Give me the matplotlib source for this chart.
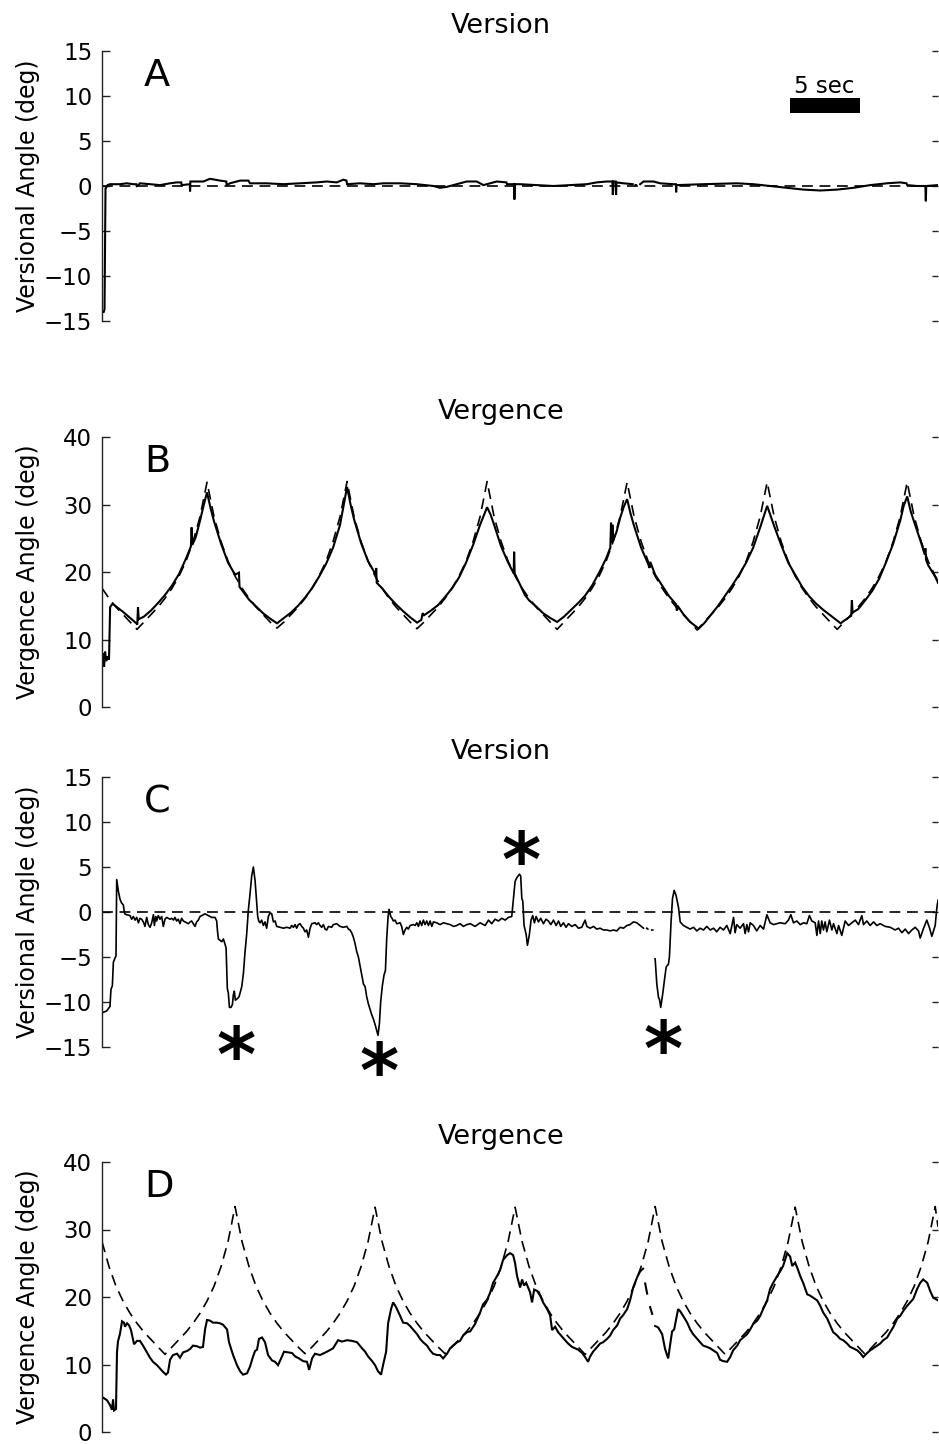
"""Eye-movement traces: version and vergence responses against target (panels A-D)."""

import numpy as np
import matplotlib

matplotlib.use("Agg")
import matplotlib.pyplot as plt
from matplotlib.patches import Rectangle

T_END = 59.7  # seconds shown on the time axis

# ---------------------------------------------------------------- panel A
A_EYE = [
    (0.00, -14.0), (0.12, -14.0), (0.18, -13.7), (0.25, -0.3), (0.40, 0.1),
    (0.57, 0.2), (1.29, 0.2), (1.76, 0.3), (2.24, 0.2), (2.45, 0.2),
    (2.48, 0.0), (2.60, 0.1), (2.71, 0.3), (3.43, 0.2), (4.14, 0.1),
    (4.86, 0.3), (5.33, 0.4), (5.66, 0.4), (5.69, 0.1), (6.27, 0.2),
    (6.29, -0.6), (6.31, 0.5), (7.24, 0.5), (7.71, 0.8), (8.43, 0.6),
    (8.88, 0.5), (8.90, 0.1), (9.14, 0.3), (9.86, 0.6), (10.45, 0.6),
    (10.57, 0.3), (11.76, 0.3), (12.95, 0.2), (14.14, 0.3), (15.33, 0.4),
    (16.05, 0.5), (16.76, 0.4), (17.24, 0.7), (17.46, 0.6), (17.50, 0.2),
    (18.43, 0.3), (19.38, 0.2), (20.10, 0.3), (21.29, 0.3), (22.48, 0.2),
    (23.67, 0.0), (24.14, -0.2), (24.62, -0.1), (25.33, 0.2), (26.05, 0.5),
    (26.76, 0.5), (27.24, 0.1), (28.19, 0.5), (28.88, 0.4), (28.92, 0.2),
    (29.43, 0.2), (29.45, -1.5), (29.48, 0.2), (29.86, 0.2), (31.05, 0.1),
    (32.24, 0.0), (33.43, 0.1), (34.62, 0.2), (35.33, 0.4), (36.05, 0.5),
    (36.45, 0.5), (36.48, -1.0), (36.52, 0.5), (36.68, 0.5), (36.71, -1.0),
    (36.74, 0.4), (37.24, 0.3), (37.90, 0.2), (38.00, np.nan), (38.10, 0.1),
    (38.14, 0.1), (38.20, np.nan), (38.43, 0.2), (38.67, 0.5), (39.38, 0.5),
    (39.86, 0.3), (40.81, 0.2), (40.98, 0.2), (41.00, -0.7), (41.03, 0.1),
    (42.95, 0.2), (45.33, 0.3), (46.52, 0.2), (47.71, 0.0), (48.90, -0.2),
    (50.10, -0.4), (51.29, -0.5), (52.48, -0.4), (53.67, -0.2), (54.86, 0.1),
    (56.05, 0.3), (57.00, 0.4), (57.45, 0.3), (57.50, 0.1), (58.19, 0.0),
    (58.80, 0.0), (58.83, -1.7), (58.86, 0.0), (59.70, 0.1),
]
A_TARGET_T = [0.0, T_END]
A_TARGET = [0.0, 0.0]

# ---------------------------------------------------------------- panel B
TARGET_T = [i * 0.5 for i in range(120)] + [T_END]

B_TARGET = [
    17.6, 16.1, 14.8, 13.7, 12.6, 11.5, 12.6, 13.7, 14.8, 16.1,
    17.6, 19.4, 21.6, 24.5, 28.2, 33.3, 28.2, 24.5, 21.6, 19.4,
    17.6, 16.1, 14.8, 13.7, 12.6, 11.7, 12.6, 13.7, 14.8, 16.1,
    17.6, 19.4, 21.6, 24.5, 28.2, 33.4, 28.2, 24.5, 21.6, 19.4,
    17.6, 16.1, 14.8, 13.7, 12.6, 11.6, 12.6, 13.7, 14.8, 16.1,
    17.6, 19.4, 21.6, 24.5, 28.2, 33.4, 28.2, 24.5, 21.6, 19.4,
    17.6, 16.1, 14.8, 13.7, 12.6, 11.5, 12.6, 13.7, 14.8, 16.1,
    17.6, 19.4, 21.6, 24.5, 28.2, 33.3, 28.2, 24.5, 21.6, 19.4,
    17.6, 16.1, 14.8, 13.7, 12.6, 11.4, 12.6, 13.7, 14.8, 16.1,
    17.6, 19.4, 21.6, 24.5, 28.2, 33.3, 28.2, 24.5, 21.6, 19.4,
    17.6, 16.1, 14.8, 13.7, 12.6, 11.5, 12.6, 13.7, 14.8, 16.1,
    17.6, 19.4, 21.6, 24.5, 28.2, 33.3, 28.2, 24.5, 21.6, 19.4,
    18.7,
]

B_EYE = [
    (0.00, 6.5), (0.08, 8.0), (0.15, 6.0), (0.22, 8.2), (0.30, 6.8),
    (0.40, 7.5), (0.50, 7.0), (0.58, 14.8), (0.75, 15.3), (1.00, 14.9),
    (1.50, 14.1), (2.00, 13.2), (2.45, 12.4), (2.52, 12.2), (2.57, 14.8),
    (2.62, 13.0), (3.00, 13.4), (3.50, 14.3), (4.00, 15.4), (4.50, 16.6),
    (5.00, 18.0), (5.50, 19.7), (6.00, 22.0), (6.35, 23.8), (6.40, 26.6),
    (6.45, 24.0), (6.70, 25.2), (7.00, 27.6), (7.25, 29.8), (7.50, 31.8),
    (7.75, 29.5), (8.00, 27.5), (8.50, 24.2), (9.00, 21.4), (9.50, 19.6),
    (9.78, 19.9), (9.82, 17.8), (10.00, 17.3), (10.50, 15.9), (11.00, 14.9),
    (11.50, 13.9), (12.00, 13.1), (12.50, 12.4), (13.00, 13.2), (13.50, 14.0),
    (14.00, 15.0), (14.50, 16.2), (15.00, 17.6), (15.50, 19.3), (16.00, 21.2),
    (16.50, 23.6), (17.00, 27.0), (17.25, 29.8), (17.50, 32.6), (17.75, 30.0),
    (18.00, 27.8), (18.50, 24.3), (19.00, 21.6), (19.55, 19.6), (19.58, 20.6),
    (19.62, 18.4), (20.00, 17.6), (20.50, 16.3), (21.00, 15.2), (21.50, 14.2),
    (22.00, 13.3), (22.50, 12.5), (22.80, 12.9), (22.90, 13.9), (23.00, 13.6),
    (23.50, 14.3), (24.00, 15.1), (24.50, 16.3), (25.00, 17.6), (25.50, 19.2),
    (26.00, 21.4), (26.50, 24.0), (27.00, 27.0), (27.50, 29.6), (27.75, 28.5),
    (28.00, 27.0), (28.50, 23.8), (29.00, 21.4), (29.40, 19.8), (29.43, 23.0),
    (29.47, 19.8), (29.70, 18.8), (30.20, 16.6), (30.50, 15.8), (31.00, 14.9),
    (31.50, 13.9), (32.00, 13.2), (32.50, 12.6), (33.00, 13.4), (33.50, 14.4),
    (34.00, 15.4), (34.50, 16.5), (35.00, 18.0), (35.50, 19.9), (36.00, 22.0),
    (36.30, 23.6), (36.35, 27.3), (36.40, 24.3), (36.45, 27.0), (36.50, 24.6),
    (36.75, 26.0), (37.00, 28.0), (37.25, 29.6), (37.50, 30.8), (37.75, 28.6),
    (38.00, 26.8), (38.50, 23.6), (39.00, 21.2), (39.10, 20.6), (39.15, 21.5),
    (39.50, 19.6), (40.00, 18.0), (40.50, 16.4), (41.00, 15.2), (41.05, 14.3),
    (41.10, 15.0), (41.50, 13.8), (42.00, 12.6), (42.50, 11.8), (42.60, 11.6),
    (43.00, 12.4), (43.50, 13.7), (44.00, 15.0), (44.50, 16.5), (45.00, 18.0),
    (45.50, 19.6), (46.00, 21.4), (46.50, 23.6), (47.00, 26.6), (47.50, 29.8),
    (47.75, 28.3), (48.00, 26.8), (48.50, 24.0), (49.00, 21.4), (49.50, 19.6),
    (50.00, 17.8), (50.50, 16.4), (51.00, 15.3), (51.50, 14.4), (52.00, 13.6),
    (52.50, 12.8), (52.75, 12.4), (53.00, 12.8), (53.50, 13.5), (53.55, 15.8),
    (53.60, 14.0), (54.00, 14.5), (54.50, 15.8), (55.00, 17.2), (55.50, 19.0),
    (56.00, 21.5), (56.50, 24.2), (57.00, 27.6), (57.25, 29.8), (57.50, 31.2),
    (57.75, 29.0), (58.00, 27.4), (58.50, 24.3), (58.75, 22.6), (58.80, 23.5),
    (58.85, 21.8), (59.00, 21.0), (59.50, 19.3), (59.70, 18.4),
]

# ---------------------------------------------------------------- panel C
C_EYE = [
    (0.00, -11.2), (0.33, -11.0), (0.57, -10.5), (0.64, -8.6), (0.74, -8.2),
    (0.81, -5.6), (0.93, -5.1), (1.00, -4.9), (1.05, 3.6), (1.17, 2.3),
    (1.29, 1.4), (1.40, 1.0), (1.52, 0.8), (1.62, -0.2), (1.76, -0.3),
    (2.00, -0.4), (2.12, -0.8), (2.24, -0.5), (2.36, -0.9), (2.48, -0.6),
    (2.60, -1.2), (2.71, -0.7), (2.83, -0.8), (2.95, -1.1), (3.07, -1.6),
    (3.19, -0.6), (3.31, -1.4), (3.43, -1.7), (3.55, -1.2), (3.67, -0.3),
    (3.74, -1.5), (3.83, -0.5), (3.90, -1.0), (4.02, -0.4), (4.14, -0.8),
    (4.26, -0.5), (4.38, -1.6), (4.50, -0.8), (4.62, -0.6), (4.86, -0.8),
    (4.98, -0.7), (5.10, -0.9), (5.21, -0.6), (5.33, -1.0), (5.45, -0.8),
    (5.57, -1.3), (5.69, -0.7), (5.81, -1.0), (6.05, -1.2), (6.17, -1.3),
    (6.29, -1.1), (6.40, -1.0), (6.52, -1.3), (6.64, -1.6), (6.76, -1.1),
    (6.88, -0.9), (7.00, -0.5), (7.24, -0.3), (7.36, -0.2), (7.60, -0.4),
    (7.83, -0.6), (8.07, -0.6), (8.19, -1.0), (8.24, -2.0), (8.31, -3.0),
    (8.55, -3.3), (8.67, -3.0), (8.79, -3.6), (8.86, -4.0), (8.90, -6.0),
    (8.95, -8.5), (9.02, -9.0), (9.10, -10.6), (9.21, -10.6), (9.31, -10.3),
    (9.38, -9.2), (9.45, -8.8), (9.52, -9.8), (9.69, -9.6), (9.79, -9.4),
    (9.86, -9.0), (9.98, -8.3), (10.10, -6.8), (10.21, -4.5), (10.33, -2.5),
    (10.45, 0.2), (10.57, 2.0), (10.69, 4.0), (10.81, 5.0), (10.93, 3.5),
    (11.05, 1.0), (11.12, -0.5), (11.19, -1.0), (11.29, -1.2), (11.40, -0.9),
    (11.52, -1.5), (11.64, -1.1), (11.76, -1.8), (11.88, -0.5), (12.00, -0.1),
    (12.12, -0.2), (12.24, -1.1), (12.36, -1.0), (12.48, -1.6), (12.71, -1.7),
    (12.95, -1.8), (13.19, -1.7), (13.43, -1.8), (13.55, -1.5), (13.67, -1.7),
    (13.79, -1.4), (13.90, -1.8), (14.02, -1.4), (14.14, -1.3), (14.26, -1.6),
    (14.38, -1.8), (14.50, -2.2), (14.62, -2.0), (14.74, -2.8), (14.86, -1.8),
    (14.98, -1.3), (15.21, -1.2), (15.33, -1.4), (15.45, -1.2), (15.57, -1.5),
    (15.69, -1.7), (15.81, -1.4), (15.93, -1.9), (16.05, -2.0), (16.17, -1.6),
    (16.40, -1.7), (16.52, -1.4), (16.76, -1.3), (17.00, -1.6), (17.24, -1.7),
    (17.48, -1.6), (17.60, -1.9), (17.71, -2.0), (17.83, -2.3), (17.95, -2.8),
    (18.07, -3.5), (18.19, -4.4), (18.31, -5.0), (18.43, -6.0), (18.55, -7.0),
    (18.67, -8.0), (18.79, -8.3), (18.90, -9.4), (19.02, -10.2), (19.14, -10.8),
    (19.26, -11.4), (19.38, -11.9), (19.50, -12.5), (19.62, -13.2), (19.71, -13.7),
    (19.81, -12.4), (19.90, -10.0), (20.02, -8.2), (20.14, -7.0), (20.24, -6.5),
    (20.33, -3.0), (20.43, -0.5), (20.50, 0.3), (20.62, -0.5), (20.71, -0.7),
    (20.81, -1.0), (20.93, -0.9), (21.05, -1.3), (21.29, -1.2), (21.40, -1.6),
    (21.52, -2.5), (21.64, -2.0), (21.76, -1.7), (21.88, -1.9), (22.00, -1.5),
    (22.24, -1.4), (22.36, -1.5), (22.48, -1.2), (22.60, -1.6), (22.71, -1.0),
    (22.83, -1.5), (22.95, -0.9), (23.07, -1.4), (23.19, -1.0), (23.31, -1.5),
    (23.43, -1.0), (23.55, -1.6), (23.67, -1.1), (23.90, -1.2), (24.14, -1.4),
    (24.38, -1.2), (24.62, -1.3), (24.86, -1.4), (25.10, -1.6), (25.33, -1.5),
    (25.57, -1.3), (25.81, -1.6), (26.05, -1.4), (26.29, -1.3), (26.64, -1.6),
    (27.00, -1.2), (27.36, -1.5), (27.60, -0.9), (27.83, -1.3), (28.07, -0.8),
    (28.31, -1.0), (28.55, -0.7), (28.79, -0.9), (29.02, -0.6), (29.26, -0.5),
    (29.38, 1.5), (29.50, 3.4), (29.62, 3.8), (29.81, 4.2), (29.90, 4.0),
    (29.98, 1.5), (30.05, 1.2), (30.14, -1.5), (30.29, -2.5), (30.38, -3.7),
    (30.52, -2.5), (30.64, -0.9), (30.76, -0.4), (30.88, -1.2), (31.00, -0.5),
    (31.17, -1.1), (31.33, -0.7), (31.52, -1.3), (31.71, -0.8), (31.88, -1.0),
    (32.05, -1.4), (32.24, -0.9), (32.43, -1.5), (32.60, -1.0), (32.76, -1.6),
    (32.95, -1.2), (33.14, -1.7), (33.31, -1.3), (33.55, -1.6), (33.79, -1.4),
    (34.02, -1.8), (34.26, -1.7), (34.50, -0.9), (34.62, -1.6), (34.86, -1.8),
    (35.10, -1.6), (35.33, -1.9), (35.57, -1.8), (35.81, -2.0), (36.05, -2.0),
    (36.29, -2.1), (36.52, -2.0), (36.76, -2.1), (37.00, -1.7), (37.24, -1.8),
    (37.48, -1.5), (37.71, -1.4), (37.95, -1.1), (38.19, -1.2), (38.43, -1.5),
    (38.67, -1.8), (38.80, np.nan), (38.90, -1.8), (38.98, -1.9), (39.10, np.nan),
    (39.26, -2.0), (39.33, -2.0), (39.40, np.nan), (39.50, -5.2), (39.62, -8.0),
    (39.74, -9.5), (39.81, -9.7), (39.90, -10.6), (40.05, -9.0), (40.17, -7.5),
    (40.29, -6.1), (40.45, -5.8), (40.52, -5.0), (40.64, -1.0), (40.74, 1.5),
    (40.86, 2.4), (41.00, 1.8), (41.17, 0.5), (41.29, -1.1), (41.40, -1.3),
    (41.52, -1.5), (41.76, -1.7), (42.00, -1.9), (42.24, -1.7), (42.48, -2.1),
    (42.71, -1.8), (42.95, -2.0), (43.19, -1.6), (43.43, -2.0), (43.67, -1.8),
    (43.90, -2.2), (44.14, -1.7), (44.38, -2.0), (44.62, -1.5), (44.86, -2.4),
    (45.10, -0.6), (45.21, -2.3), (45.33, -1.4), (45.57, -1.8), (45.81, -1.3),
    (45.93, -2.4), (46.05, -1.4), (46.17, -2.2), (46.29, -1.2), (46.52, -1.5),
    (46.76, -2.1), (47.00, -1.5), (47.24, -1.9), (47.48, -0.3), (47.71, -1.2),
    (47.95, -1.4), (48.19, -1.3), (48.43, -1.2), (48.79, -1.3), (49.02, -0.9),
    (49.19, -0.3), (49.38, -1.2), (49.62, -1.0), (49.86, -1.4), (50.10, -1.2),
    (50.33, -1.3), (50.52, -0.4), (50.69, -1.0), (50.93, -1.2), (51.05, -2.6),
    (51.17, -1.0), (51.29, -2.4), (51.40, -1.0), (51.52, -2.0), (51.64, -1.1),
    (51.76, -2.2), (51.95, -0.9), (52.12, -2.0), (52.24, -1.3), (52.48, -2.4),
    (52.60, -1.5), (52.83, -2.6), (53.07, -1.0), (53.31, -1.5), (53.55, -1.2),
    (53.79, -0.9), (54.02, -1.4), (54.26, -0.4), (54.38, -1.4), (54.62, -1.0),
    (54.86, -1.5), (55.10, -1.1), (55.33, -1.5), (55.57, -1.3), (55.93, -1.6),
    (56.29, -1.7), (56.64, -2.0), (56.88, -1.8), (57.12, -2.3), (57.36, -1.9),
    (57.60, -2.4), (57.83, -2.0), (58.07, -1.7), (58.31, -2.1), (58.43, -2.9),
    (58.67, -1.8), (58.90, -0.9), (59.10, -1.8), (59.26, -2.7), (59.50, -1.5),
    (59.62, 0.5), (59.70, 1.3),
]
C_TARGET_T = [0.0, T_END]
C_TARGET = [0.0, 0.0]

# saccade events marked with asterisks (time s, angle deg)
STAR_T = [9.57, 19.8, 29.9, 40.1]
STAR_V = [-14.6, -16.4, 7.1, -13.9]

# ---------------------------------------------------------------- panel D
D_TARGET = [
    28.2, 24.5, 21.6, 19.4, 17.6, 16.1, 14.8, 13.7, 12.6, 11.5,
    12.6, 13.7, 14.8, 16.1, 17.6, 19.4, 21.6, 24.5, 28.2, 33.4,
    28.2, 24.5, 21.6, 19.4, 17.6, 16.1, 14.8, 13.7, 12.6, 11.6,
    12.6, 13.7, 14.8, 16.1, 17.6, 19.4, 21.6, 24.5, 28.2, 33.3,
    28.2, 24.5, 21.6, 19.4, 17.6, 16.1, 14.8, 13.7, 12.6, 11.6,
    12.6, 13.7, 14.8, 16.1, 17.6, 19.4, 21.6, 24.5, 28.2, 33.3,
    28.2, 24.5, 21.6, 19.4, 17.6, 16.1, 14.8, 13.7, 12.6, 11.5,
    12.6, 13.7, 14.8, 16.1, 17.6, 19.4, 21.6, 24.5, 28.2, 33.4,
    28.2, 24.5, 21.6, 19.4, 17.6, 16.1, 14.8, 13.7, 12.6, 11.5,
    12.6, 13.7, 14.8, 16.1, 17.6, 19.4, 21.6, 24.5, 28.2, 33.3,
    28.2, 24.5, 21.6, 19.4, 17.6, 16.1, 14.8, 13.7, 12.6, 11.5,
    12.6, 13.7, 14.8, 16.1, 17.6, 19.4, 21.6, 24.5, 28.2, 33.4,
    30.4,
]

D_EYE = [
    (0.00, 5.2), (0.36, 4.7), (0.57, 4.0), (0.71, 3.3), (0.79, 4.8),
    (0.86, 3.2), (1.00, 3.4), (1.07, 11.8), (1.14, 13.4), (1.29, 14.6),
    (1.43, 16.4), (1.57, 16.2), (1.64, 15.6), (1.79, 16.1), (1.93, 15.8),
    (2.07, 15.1), (2.29, 13.0), (2.50, 13.5), (2.71, 13.5), (2.93, 12.8),
    (3.21, 11.8), (3.43, 11.0), (3.64, 10.4), (3.93, 9.9), (4.14, 9.4),
    (4.36, 8.9), (4.57, 8.5), (4.71, 8.8), (4.86, 10.7), (5.07, 11.4),
    (5.36, 11.6), (5.57, 11.0), (5.79, 11.8), (6.07, 12.0), (6.29, 12.3),
    (6.50, 12.8), (6.79, 12.7), (7.00, 12.5), (7.21, 12.6), (7.36, 15.2),
    (7.50, 16.6), (7.71, 16.5), (7.93, 16.2), (8.21, 16.2), (8.43, 16.1),
    (8.64, 15.9), (8.93, 15.2), (9.07, 13.3), (9.36, 11.4), (9.64, 9.9),
    (9.86, 9.0), (10.07, 8.5), (10.36, 8.7), (10.57, 9.7), (10.79, 11.2),
    (10.93, 12.0), (11.07, 12.2), (11.21, 13.8), (11.43, 14.0), (11.64, 13.3),
    (11.86, 11.4), (12.14, 10.6), (12.36, 10.4), (12.57, 9.9), (12.79, 10.9),
    (13.00, 11.9), (13.29, 11.8), (13.57, 11.7), (13.79, 11.2), (14.07, 10.9),
    (14.36, 10.5), (14.64, 10.4), (14.79, 9.2), (15.00, 10.9), (15.21, 11.6),
    (15.57, 11.4), (16.07, 11.9), (16.50, 12.4), (16.86, 13.6), (17.14, 13.4),
    (17.50, 13.6), (17.86, 13.5), (18.21, 13.3), (18.57, 12.4), (18.79, 11.9),
    (19.00, 11.2), (19.29, 10.5), (19.50, 9.9), (19.71, 9.0), (19.93, 8.5),
    (20.07, 9.9), (20.29, 11.9), (20.43, 16.1), (20.64, 18.2), (20.79, 19.2),
    (21.00, 18.5), (21.29, 17.2), (21.50, 16.2), (21.79, 16.1), (22.00, 15.7),
    (22.21, 15.2), (22.50, 14.5), (22.71, 13.8), (22.93, 13.3), (23.21, 12.8),
    (23.43, 12.1), (23.64, 11.6), (23.93, 11.4), (24.14, 11.4), (24.36, 10.9),
    (24.64, 11.6), (24.86, 12.4), (25.07, 12.8), (25.36, 13.3), (25.57, 13.5),
    (25.79, 14.3), (26.07, 14.8), (26.29, 14.9), (26.64, 16.0), (27.00, 17.7),
    (27.21, 18.9), (27.50, 19.6), (27.71, 20.6), (27.93, 22.1), (28.21, 23.1),
    (28.43, 24.0), (28.64, 25.5), (28.93, 26.2), (29.14, 26.5), (29.36, 26.2),
    (29.50, 25.0), (29.64, 23.1), (29.86, 21.4), (30.00, 22.6), (30.14, 21.7),
    (30.29, 22.1), (30.57, 20.7), (30.71, 19.2), (30.86, 21.1), (31.07, 20.9),
    (31.29, 20.2), (31.50, 19.2), (31.79, 18.2), (32.00, 17.3), (32.14, 15.1),
    (32.36, 15.6), (32.57, 14.8), (32.86, 14.1), (33.07, 13.6), (33.29, 13.1),
    (33.57, 12.6), (33.79, 12.4), (34.00, 12.2), (34.29, 11.7), (34.50, 11.1),
    (34.71, 10.4), (34.86, 11.2), (35.07, 11.9), (35.36, 12.6), (35.57, 13.1),
    (35.79, 13.3), (36.07, 13.8), (36.29, 14.3), (36.50, 15.1), (36.79, 15.8),
    (37.00, 16.8), (37.21, 17.3), (37.50, 18.2), (37.71, 19.5), (37.93, 21.4),
    (38.21, 22.9), (38.43, 23.8), (38.64, 24.2), (38.70, np.nan), (38.79, 22.0),
    (38.93, 20.5), (39.00, np.nan), (39.14, 18.5), (39.29, 17.5), (39.40, np.nan),
    (39.50, 15.7), (39.71, 15.5), (39.86, 15.0), (40.00, 14.5), (40.21, 12.3),
    (40.43, 10.9), (40.57, 12.9), (40.71, 14.9), (40.86, 15.2), (41.00, 16.7),
    (41.14, 18.2), (41.29, 17.9), (41.50, 17.2), (41.79, 16.2), (42.00, 15.2),
    (42.21, 14.5), (42.50, 13.8), (42.71, 13.3), (42.93, 12.8), (43.21, 12.6),
    (43.43, 12.4), (43.64, 12.1), (43.93, 11.7), (44.14, 10.7), (44.36, 10.5),
    (44.64, 10.4), (44.86, 11.1), (45.07, 12.1), (45.36, 12.8), (45.57, 13.6),
    (45.79, 14.0), (46.07, 14.5), (46.29, 15.2), (46.50, 16.0), (46.79, 16.5),
    (47.00, 17.2), (47.21, 18.2), (47.50, 19.5), (47.71, 21.2), (47.93, 22.1),
    (48.21, 23.1), (48.43, 23.8), (48.64, 24.6), (48.93, 26.5), (49.14, 26.0),
    (49.29, 24.6), (49.50, 25.1), (49.71, 24.0), (49.86, 23.1), (50.07, 22.1),
    (50.36, 20.4), (50.57, 20.2), (50.79, 19.9), (51.07, 19.5), (51.29, 18.7),
    (51.50, 17.7), (51.79, 16.8), (52.00, 15.8), (52.21, 14.8), (52.50, 14.3),
    (52.71, 13.8), (52.93, 13.6), (53.21, 13.1), (53.43, 12.6), (53.64, 12.4),
    (53.93, 12.1), (54.14, 11.7), (54.36, 11.1), (54.64, 11.7), (54.86, 12.1),
    (55.07, 12.4), (55.36, 12.8), (55.57, 13.1), (55.79, 13.6), (56.07, 14.0),
    (56.29, 14.8), (56.50, 15.5), (56.79, 16.8), (57.00, 17.2), (57.21, 17.9),
    (57.50, 18.7), (57.71, 19.2), (57.93, 19.7), (58.21, 21.2), (58.43, 22.1),
    (58.64, 22.6), (58.93, 22.1), (59.14, 20.9), (59.36, 19.9), (59.70, 19.5),
]

# scale bar in panel A (seconds, degrees)
SCALE_BAR_T = 49.1
SCALE_BAR_LEN = 5.0
SCALE_BAR_Y = (8.1, 9.8)

VERSION_TICKS = [-15, -10, -5, 0, 5, 10, 15]
VERGENCE_TICKS = [0, 10, 20, 30, 40]

FIG_W, FIG_H = 939, 1444
AX_LEFT, AX_RIGHT = 102, 938
PANEL_TOPS = [51, 437, 777, 1162]
PANEL_HEIGHT = 270


def _unzip(pairs):
    t = [p[0] for p in pairs]
    v = [p[1] for p in pairs]
    return t, v


def _style_axis(ax, ylim, ticks, ylabel, title, letter):
    ax.set_xlim(0, T_END)
    ax.set_ylim(*ylim)
    ax.set_xticks([])
    ax.set_yticks(ticks)
    for side in ("top", "right", "bottom"):
        ax.spines[side].set_visible(False)
    ax.spines["left"].set_color("#222222")
    ax.spines["left"].set_linewidth(1.0)
    ax.tick_params(axis="y", direction="in", length=6, width=1.0,
                   labelsize=16.5, pad=7, right=True, color="#222222")
    major = ax.yaxis.get_major_ticks()
    for tick in major:
        tick.tick2line.set_markersize(4)
        tick.tick2line.set_color("#aaaaaa")
    for tick in (major[0], major[-1]):
        tick.tick1line.set_color("#aaaaaa")
    ax.set_ylabel(ylabel, fontsize=17)
    ax.yaxis.set_label_coords(-0.074, 0.5)
    ax.text(0.477, 1.067, title, transform=ax.transAxes, ha="center",
            va="baseline", fontsize=19.5)
    ax.text(0.050, 0.87, letter, transform=ax.transAxes, ha="left",
            va="baseline", fontsize=27.5)


def main():
    plt.rcParams["font.family"] = ["DejaVu Sans"]
    fig = plt.figure(figsize=(FIG_W / 100, FIG_H / 100), dpi=100)

    axes = []
    for top in PANEL_TOPS:
        rect = [AX_LEFT / FIG_W, 1 - (top + PANEL_HEIGHT) / FIG_H,
                (AX_RIGHT - AX_LEFT) / FIG_W, PANEL_HEIGHT / FIG_H]
        axes.append(fig.add_axes(rect))
    ax_a, ax_b, ax_c, ax_d = axes

    dash = (0, (6.5, 4.0))
    eye_kw = dict(color="black", linewidth=1.5, solid_joinstyle="miter")
    tgt_kw = dict(color="black", linewidth=1.2, linestyle=dash)

    # A
    ax_a.plot(A_TARGET_T, A_TARGET, **tgt_kw)
    ax_a.plot(*_unzip(A_EYE), **eye_kw)
    _style_axis(ax_a, (-15, 15), VERSION_TICKS, "Versional Angle (deg)",
                "Version", "A")
    ax_a.add_patch(Rectangle((SCALE_BAR_T, SCALE_BAR_Y[0]), SCALE_BAR_LEN,
                             SCALE_BAR_Y[1] - SCALE_BAR_Y[0],
                             facecolor="black", edgecolor="none"))
    ax_a.text(SCALE_BAR_T + SCALE_BAR_LEN / 2, SCALE_BAR_Y[1] + 0.5, "5 sec",
              ha="center", va="baseline", fontsize=16.5)

    # B
    ax_b.plot(TARGET_T, B_TARGET, **tgt_kw)
    ax_b.plot(*_unzip(B_EYE), **eye_kw)
    _style_axis(ax_b, (0, 40), VERGENCE_TICKS, "Vergence Angle (deg)",
                "Vergence", "B")

    # C
    ax_c.plot(C_TARGET_T, C_TARGET, **tgt_kw)
    ax_c.plot(*_unzip(C_EYE), color="black", linewidth=1.2)
    _style_axis(ax_c, (-15, 15), VERSION_TICKS, "Versional Angle (deg)",
                "Version", "C")
    for t, v in zip(STAR_T, STAR_V):
        ax_c.annotate("*", (t, v), xytext=(0, -27), textcoords="offset points",
                      ha="center", va="baseline", fontsize=54,
                      fontweight="bold", annotation_clip=False)

    # D
    ax_d.plot(TARGET_T, D_TARGET, **tgt_kw)
    ax_d.plot(*_unzip(D_EYE), **eye_kw)
    _style_axis(ax_d, (0, 40), VERGENCE_TICKS, "Vergence Angle (deg)",
                "Vergence", "D")

    fig.savefig("out.png", dpi=100)
    plt.close(fig)


if __name__ == "__main__":
    main()
